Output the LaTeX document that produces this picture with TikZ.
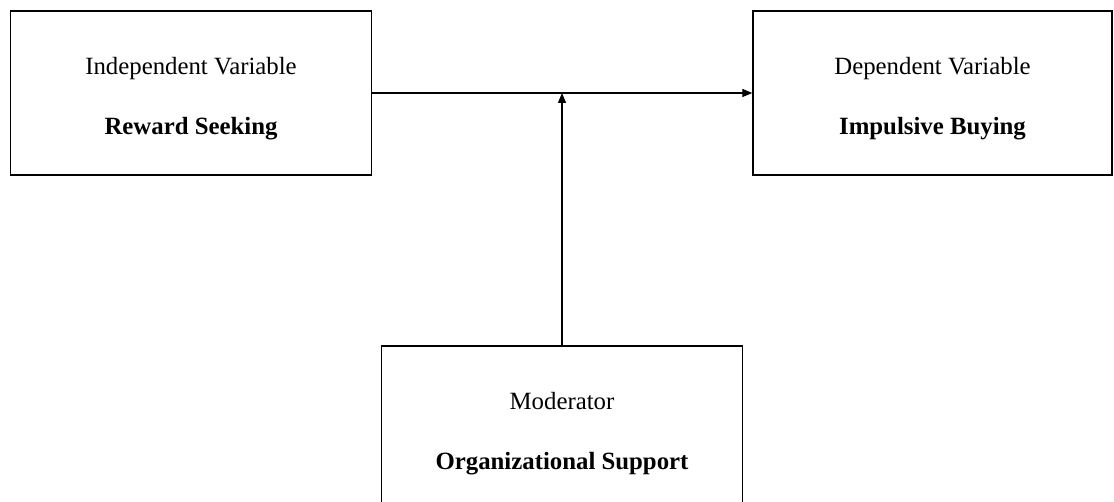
\documentclass[tikz,border=0pt]{standalone}
\usepackage{fontspec}
\setmainfont{Liberation Serif}
\usetikzlibrary{arrows.meta}
\tikzset{
  varbox/.style={draw, line width=0.7pt, minimum height=82pt, align=center,
    inner sep=0pt, font=\fontsize{12.4}{14}\selectfont},
  varline/.style={line width=0.6pt, -{Triangle[length=5pt,width=4pt]}}
}
\begin{document}
\begin{tikzpicture}[x=0.5pt,y=-0.5pt]
           \clip (0,0) rectangle (1114,502);
           \node[varbox, minimum width=180.5pt] (iv) at (191,93) {\rule{0pt}{14pt}Independent Variable\\[16pt]\textbf{Reward Seeking}};
           \node[varbox, minimum width=179.5pt] (dv) at (932.5,93) {\rule{0pt}{14pt}Dependent Variable\\[16pt]\textbf{Impulsive Buying}};
           \node[varbox, minimum width=180.5pt] (mod) at (562,428) {\rule{0pt}{14pt}Moderator\\[16pt]\textbf{Organizational Support}};
           \coordinate (join) at (mod.north |- iv.east);
           \draw[varline] (iv.east) -- (dv.west);
           \draw[varline] (mod.north) -- (join);
       \end{tikzpicture}
\end{document}
